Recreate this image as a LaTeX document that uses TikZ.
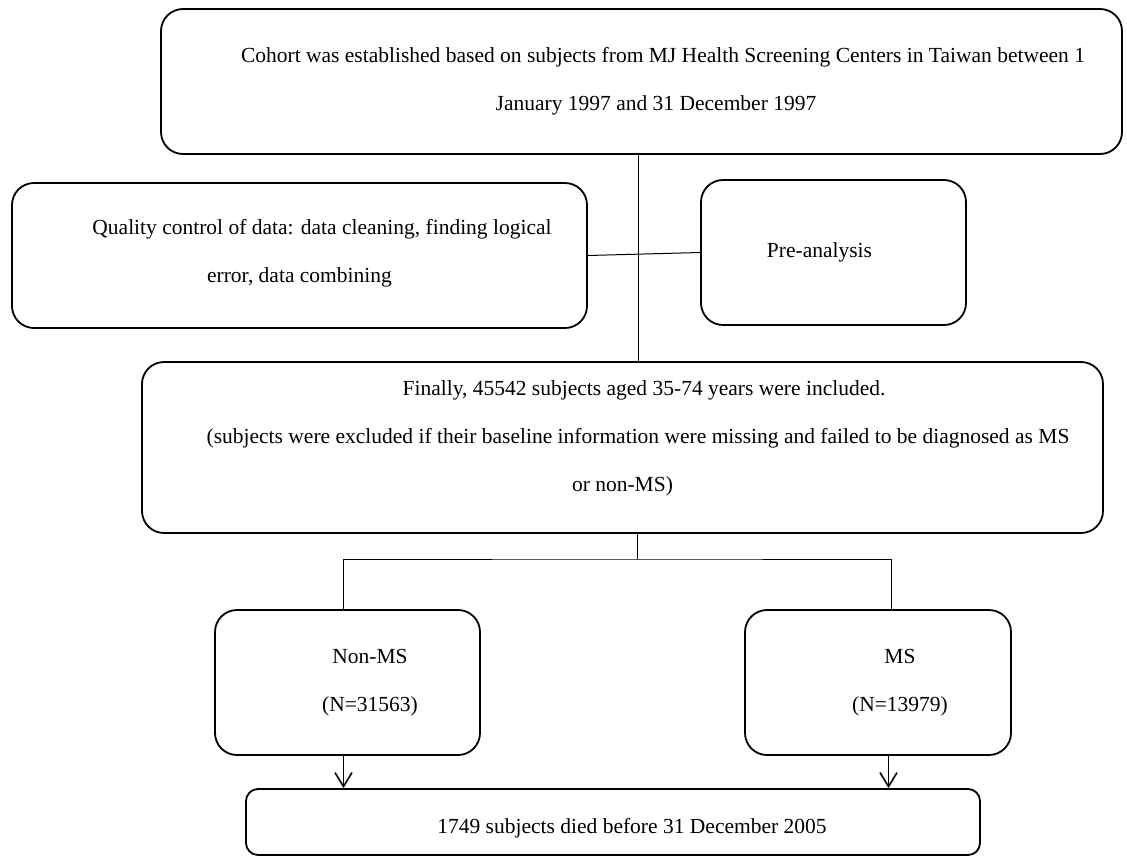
\documentclass[tikz,border=0pt]{standalone}
\usepackage{fontspec}
\setmainfont{Liberation Serif}
\usetikzlibrary{arrows.meta}
\begin{document}
\begin{tikzpicture}[x=1pt,y=-1pt,
  box/.style={draw, line width=1.8pt, rounded corners=22pt, inner sep=0pt},
  txt/.style={font=\fontsize{21.5}{48}\selectfont, align=center, inner sep=0pt},
  conn/.style={line width=1pt},
  arr/.style={line width=1.6pt, -{Straight Barb[length=14pt,width=17pt,line width=1.6pt]}}
]
\useasboundingbox (0,0) rectangle (1127,857);

\node[box, minimum width=961pt, minimum height=145pt,
  label={[txt]center:{\hspace*{43pt}Cohort was established based on subjects from MJ Health Screening Centers in Taiwan between 1\\\hspace*{29pt}January 1997 and 31 December 1997}}]
  (b1) at (641.5,81.5) {};

\node[box, minimum width=575pt, minimum height=145pt,
  label={[txt, yshift=2pt]center:{\hspace*{45pt}Quality control of data: data cleaning, finding logical\\error, data combining}}]
  (b2) at (299.5,255.5) {};

\node[box, minimum width=265pt, minimum height=145pt,
  label={[txt, xshift=-14pt]center:{Pre-analysis}}]
  (b3) at (833.5,252.5) {};

\node[box, minimum width=961pt, minimum height=171pt,
  label={[txt, yshift=9pt]center:{\hspace*{43pt}Finally, 45542 subjects aged 35-74 years were included.\\\hspace*{31pt}(subjects were excluded if their baseline information were missing and failed to be diagnosed as MS\\or non-MS)}}]
  (b4) at (622.5,447.5) {};

\node[box, minimum width=265pt, minimum height=145pt,
  label={[txt, xshift=22.5pt]center:{Non-MS\\(N=31563)}}]
  (b5) at (347.5,682.5) {};

\node[box, minimum width=266pt, minimum height=145pt,
  label={[txt, xshift=22pt]center:{MS\\(N=13979)}}]
  (b6) at (878,682.5) {};

\node[box, rounded corners=12pt, minimum width=734pt, minimum height=66pt,
  label={[txt, xshift=19pt, yshift=-6pt]center:{1749 subjects died before 31 December 2005}}]
  (b7) at (613,822) {};

\coordinate (cx) at (638,0);
\coordinate (sp) at (637,559);
\coordinate (xl) at (343.5,0);
\coordinate (xr) at (891,0);
\coordinate (xa) at (888.5,0);

\draw[conn] (b1.south -| cx) -- (b4.north -| cx);
\draw[conn] (b2.east) -- (b3.west);
\draw[conn] (b4.south -| sp) -- (sp);
\draw[conn] (b5.north -| xl) |- (sp) -| (b6.north -| xr);
\draw[arr] (b5.south -| xl) -- (b7.north -| xl);
\draw[arr] (b6.south -| xa) -- (b7.north -| xa);
\end{tikzpicture}
\end{document}
